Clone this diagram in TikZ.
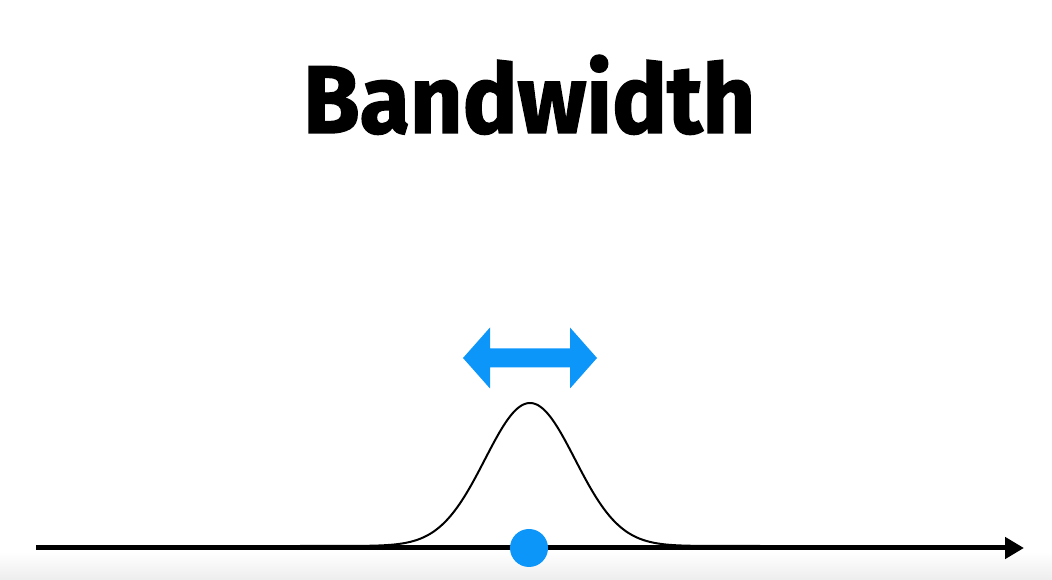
\documentclass[tikz,border=0pt]{standalone}
\usepackage{fontspec}
\newfontfamily\titlefont{Fira Sans}[BoldFeatures={FakeBold=1.5}]
\usetikzlibrary{arrows.meta}
\definecolor{kernelblue}{RGB}{12,150,250}
\tikzset{
	axisline/.style={line width=5pt,-{Triangle[length=19pt,width=21pt]}},
	kernelcurve/.style={line width=2pt},
	centerdot/.style={circle,fill=kernelblue,inner sep=0pt,minimum size=38pt}
}
\begin{document}
\begin{tikzpicture}[x=1pt,y=1pt]
		\useasboundingbox (0,0) rectangle (1052,580);
		\shade[top color=white,bottom color=black!7] (0,0) rectangle (1052,28);
		\node[anchor=base west,inner sep=0pt] (title) at (303,447) {\resizebox{452pt}{78pt}{\titlefont\bfseries Bandwidth}};
		\coordinate (start) at (36,32);
		\coordinate (end) at (1024,32);
		\draw[kernelcurve,domain=300:760,samples=200] plot (\x,{34+143*exp(-0.5*((\x-530)/45)^2)});
		\draw[axisline] (start) -- (end);
		\node[centerdot] (center) at (529,32) {};
		\coordinate (width) at (530,222);
		\fill[kernelblue] ([xshift=-67pt]width) -- ([xshift=-40pt,yshift=30.5pt]width) -- ([xshift=-40pt,yshift=9.5pt]width) -- ([xshift=40pt,yshift=9.5pt]width) -- ([xshift=40pt,yshift=30.5pt]width) -- ([xshift=67pt]width) -- ([xshift=40pt,yshift=-30.5pt]width) -- ([xshift=40pt,yshift=-9.5pt]width) -- ([xshift=-40pt,yshift=-9.5pt]width) -- ([xshift=-40pt,yshift=-30.5pt]width) -- cycle;
		\end{tikzpicture}
\end{document}
